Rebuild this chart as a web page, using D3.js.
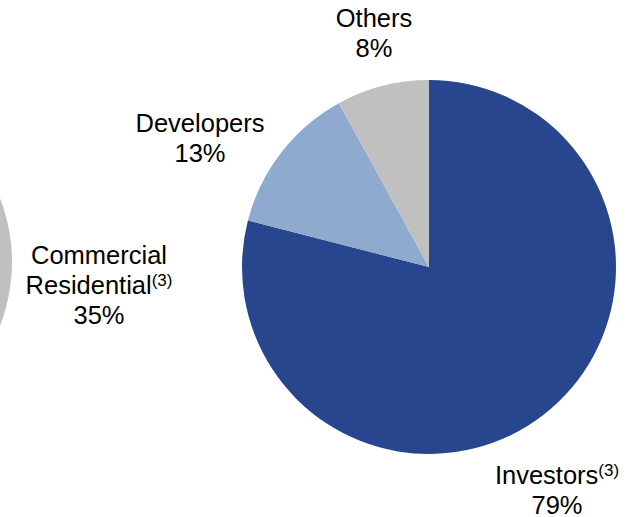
<!DOCTYPE html>
<html>
<head>
<meta charset="utf-8">
<script src="https://cdn.jsdelivr.net/npm/d3@7"></script>
<style>
  html, body { margin: 0; padding: 0; background: #ffffff; }
  svg { display: block; }
  text { font-family: Arial, "Liberation Sans", sans-serif; fill: #000000; }
</style>
</head>
<body>
<svg id="chart" width="639" height="517"></svg>
<script>
// Customer mix (right pie)
const categories = ["Investors", "Developers", "Others"];
const values = [79, 13, 8];
const labelNotes = ["(3)", "", ""];

// Neighbouring pie, only its rightmost slice is in view
const leftCategories = ["Commercial Residential"];
const leftValues = [35];
const leftNotes = ["(3)"];

const colors = ["#27468E", "#8EABCF", "#C0C0C0"];
const leftColor = "#C0C0C0";

const svg = d3.select("#chart");
const fontSize = 25.5;
const supSize = 17;
const lineGap = 30;

// Main pie
const cx = 429, cy = 267, r = 187;
const pie = d3.pie().sort(null).value(d => d).startAngle(0).endAngle(2 * Math.PI);
const arcs = pie(values);
const arc = d3.arc().innerRadius(0).outerRadius(r);

const g = svg.append("g").attr("transform", `translate(${cx},${cy})`);
g.selectAll("path")
  .data(arcs)
  .join("path")
  .attr("d", arc)
  .attr("fill", (d, i) => colors[i]);

// Neighbouring pie slice, centred on 3 o'clock
const lcx = -163, lcy = 262, lr = 175;
const leftSpan = leftValues[0] / 100 * 2 * Math.PI;
const leftArcs = d3.pie().sort(null).value(d => d)
  .startAngle(Math.PI / 2 - leftSpan / 2)
  .endAngle(Math.PI / 2 + leftSpan / 2)(leftValues);
svg.append("g").attr("transform", `translate(${lcx},${lcy})`)
  .selectAll("path")
  .data(leftArcs)
  .join("path")
  .attr("d", d3.arc().innerRadius(0).outerRadius(lr))
  .attr("fill", leftColor);

// Label placement (centre x, first baseline)
const labelPos = [
  { x: 557, y: 484 },
  { x: 200, y: 132 },
  { x: 374, y: 27 }
];
const leftLabelPos = [{ x: 99, y: 264 }];

function drawLabel(lines, note, value, pos) {
  const t = svg.append("text")
    .attr("text-anchor", "middle")
    .attr("font-size", fontSize);
  lines.forEach((ln, k) => {
    t.append("tspan")
      .attr("x", pos.x)
      .attr("y", pos.y + k * lineGap)
      .text(ln);
    if (k === lines.length - 1 && note) {
      t.append("tspan")
        .attr("font-size", supSize)
        .attr("dy", -8)
        .text(note);
    }
  });
  t.append("tspan")
    .attr("x", pos.x)
    .attr("y", pos.y + lines.length * lineGap)
    .text(value + "%");
}

categories.forEach((c, i) => {
  drawLabel([c], labelNotes[i], values[i], labelPos[i]);
});
drawLabel(["Commercial", "Residential"], leftNotes[0], leftValues[0], leftLabelPos[0]);
</script>
</body>
</html>
